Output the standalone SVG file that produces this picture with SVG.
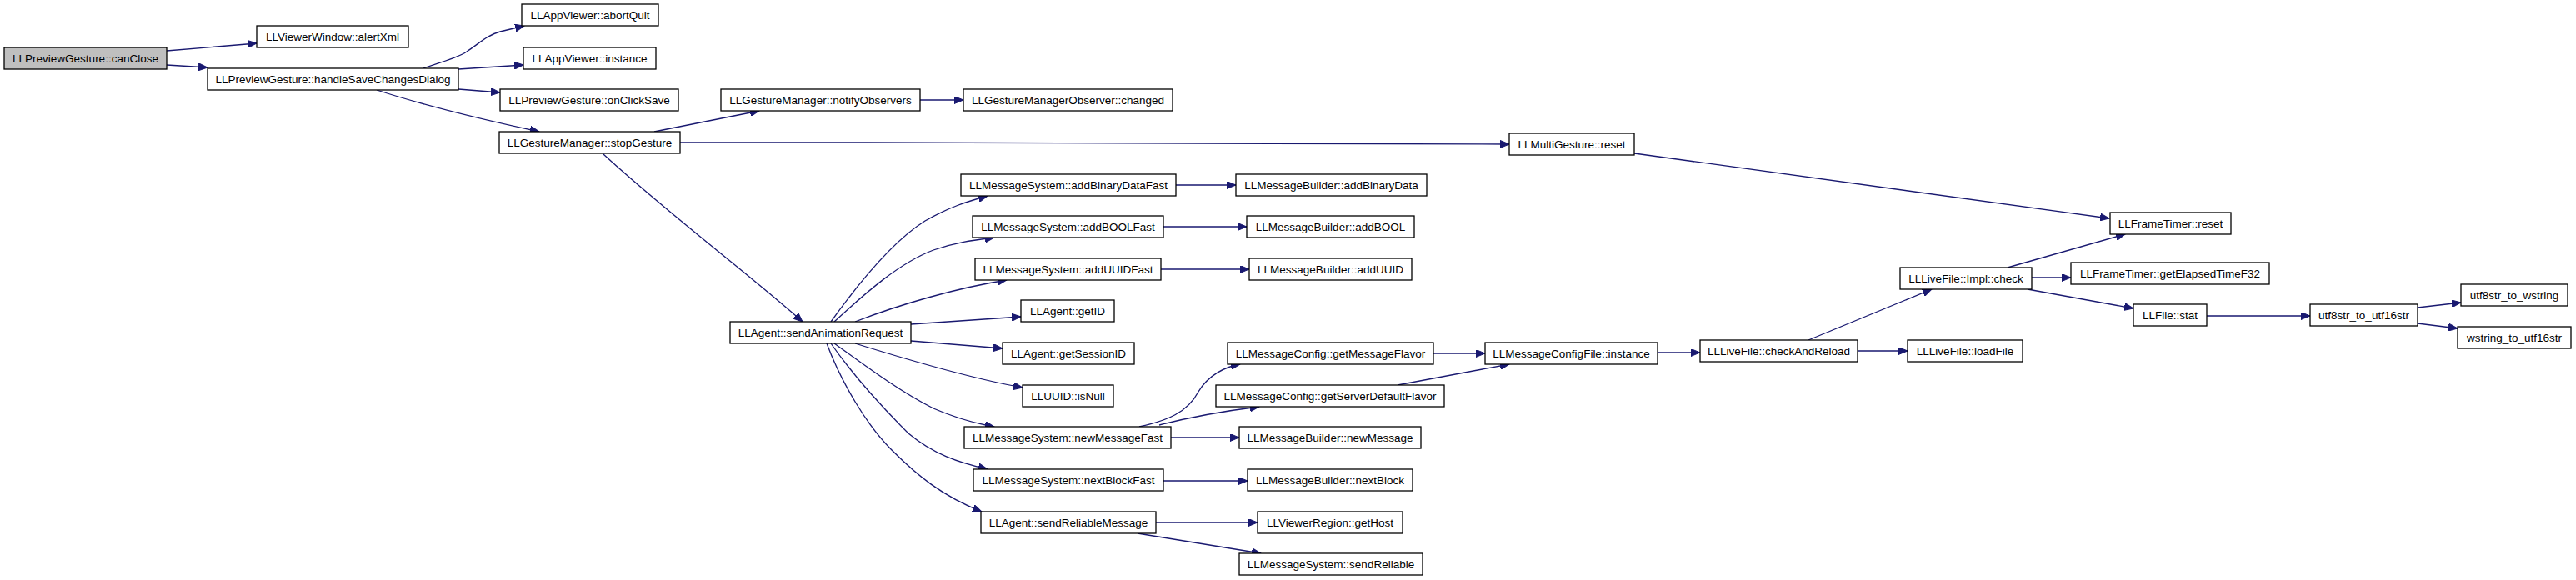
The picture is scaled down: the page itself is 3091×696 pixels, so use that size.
<svg xmlns="http://www.w3.org/2000/svg" width="3091" height="696" viewBox="0 0 3091 696">
<style>
.n rect{fill:#ffffff;stroke:#000000;stroke-width:1.3}
.n.root rect{fill:#bfbfbf}
.n text{font-family:"Liberation Sans",Arial,sans-serif;font-size:13.5px;fill:#000000;text-anchor:middle}
#edges path{fill:none;stroke:#191970;stroke-width:1.3;marker-end:url(#arr)}
</style>
<defs>
<marker id="arr" markerUnits="userSpaceOnUse" markerWidth="12" markerHeight="9" refX="11" refY="4.5" orient="auto">
<path d="M0,0 L11,4.5 L0,9 z" fill="#191970" stroke="#191970" stroke-width="1"/>
</marker>
</defs>
<rect width="3091" height="696" fill="#ffffff"/>
<g id="edges">
<path d="M200,61 L308,52"/>
<path d="M200,78 L249,81"/>
<path d="M508,82 C530,74 548,70 560,62 C575,52 585,42 600,38 L629,31"/>
<path d="M550,83 L628,78"/>
<path d="M550,107 L600,111"/>
<path d="M452,108 C520,130 600,148 647,158"/>
<path d="M785,158 L911,133"/>
<path d="M1104,120 L1156,120"/>
<path d="M816,171 L1040,171 L1811,173"/>
<path d="M724,185 C800,255 900,330 963,386"/>
<path d="M1961,184 L2531,262"/>
<path d="M997,386 C1030,340 1070,290 1110,265 C1140,248 1160,242 1185,235"/>
<path d="M1001,386 C1040,350 1080,315 1120,300 C1150,290 1170,288 1193,285"/>
<path d="M1026,386 C1080,365 1150,345 1208,336"/>
<path d="M1093,389 L1225,380"/>
<path d="M1093,409 L1203,418"/>
<path d="M1026,412 C1100,435 1170,455 1227,465"/>
<path d="M1001,412 C1040,440 1080,470 1120,490 C1150,503 1170,508 1193,512"/>
<path d="M997,412 C1020,445 1050,480 1090,520 C1120,545 1150,555 1185,563"/>
<path d="M992,412 C1010,460 1040,510 1070,540 C1100,570 1130,595 1178,614"/>
<path d="M1411,222 L1483,222"/>
<path d="M1396,272 L1496,272"/>
<path d="M1393,323 L1499,323"/>
<path d="M1367,512 C1400,505 1425,495 1438,470 C1450,450 1470,440 1488,437"/>
<path d="M1391,510 C1430,500 1470,493 1511,488"/>
<path d="M1405,525 L1487,525"/>
<path d="M1396,577 L1497,577"/>
<path d="M1387,627 L1509,627"/>
<path d="M1365,640 L1513,664"/>
<path d="M1720,424 L1782,424"/>
<path d="M1677,462 L1811,437"/>
<path d="M1989,423 L2040,423"/>
<path d="M2170,408 L2318,347"/>
<path d="M2229,421 L2289,421"/>
<path d="M2409,321 L2550,281"/>
<path d="M2438,333 L2485,333"/>
<path d="M2433,347 L2560,370"/>
<path d="M2648,379 L2772,379"/>
<path d="M2901,369 L2953,363"/>
<path d="M2901,388 L2949,394"/>
</g>
<g id="n_canClose" class="n root"><rect x="5" y="57" width="195" height="26"/><text x="102.5" y="74.5">LLPreviewGesture::canClose</text></g>
<g id="n_alertXml" class="n"><rect x="308" y="31" width="182" height="26"/><text x="399" y="48.5">LLViewerWindow::alertXml</text></g>
<g id="n_handleSave" class="n"><rect x="249" y="82" width="301" height="26"/><text x="399.5" y="99.5">LLPreviewGesture::handleSaveChangesDialog</text></g>
<g id="n_abortQuit" class="n"><rect x="626" y="5" width="164" height="26"/><text x="708" y="22.5">LLAppViewer::abortQuit</text></g>
<g id="n_appInstance" class="n"><rect x="628" y="57" width="159" height="26"/><text x="707.5" y="74.5">LLAppViewer::instance</text></g>
<g id="n_onClickSave" class="n"><rect x="600" y="107" width="214" height="26"/><text x="707" y="124.5">LLPreviewGesture::onClickSave</text></g>
<g id="n_stopGesture" class="n"><rect x="599" y="158" width="217" height="26"/><text x="707.5" y="175.5">LLGestureManager::stopGesture</text></g>
<g id="n_notifyObservers" class="n"><rect x="865" y="107" width="239" height="26"/><text x="984.5" y="124.5">LLGestureManager::notifyObservers</text></g>
<g id="n_changed" class="n"><rect x="1156" y="107" width="251" height="26"/><text x="1281.5" y="124.5">LLGestureManagerObserver::changed</text></g>
<g id="n_multiReset" class="n"><rect x="1811" y="160" width="150" height="26"/><text x="1886" y="177.5">LLMultiGesture::reset</text></g>
<g id="n_sendAnim" class="n"><rect x="876" y="386" width="217" height="26"/><text x="984.5" y="403.5">LLAgent::sendAnimationRequest</text></g>
<g id="n_addBinaryDataFast" class="n"><rect x="1153" y="209" width="258" height="26"/><text x="1282" y="226.5">LLMessageSystem::addBinaryDataFast</text></g>
<g id="n_addBOOLFast" class="n"><rect x="1167" y="259" width="229" height="26"/><text x="1281.5" y="276.5">LLMessageSystem::addBOOLFast</text></g>
<g id="n_addUUIDFast" class="n"><rect x="1170" y="310" width="223" height="26"/><text x="1281.5" y="327.5">LLMessageSystem::addUUIDFast</text></g>
<g id="n_getID" class="n"><rect x="1225" y="360" width="112" height="26"/><text x="1281" y="377.5">LLAgent::getID</text></g>
<g id="n_getSessionID" class="n"><rect x="1203" y="411" width="158" height="26"/><text x="1282" y="428.5">LLAgent::getSessionID</text></g>
<g id="n_isNull" class="n"><rect x="1227" y="462" width="109" height="26"/><text x="1281.5" y="479.5">LLUUID::isNull</text></g>
<g id="n_newMessageFast" class="n"><rect x="1157" y="512" width="248" height="26"/><text x="1281" y="529.5">LLMessageSystem::newMessageFast</text></g>
<g id="n_nextBlockFast" class="n"><rect x="1168" y="563" width="228" height="26"/><text x="1282" y="580.5">LLMessageSystem::nextBlockFast</text></g>
<g id="n_sendReliableMessage" class="n"><rect x="1177" y="614" width="210" height="26"/><text x="1282" y="631.5">LLAgent::sendReliableMessage</text></g>
<g id="n_addBinaryData" class="n"><rect x="1483" y="209" width="229" height="26"/><text x="1597.5" y="226.5">LLMessageBuilder::addBinaryData</text></g>
<g id="n_addBOOL" class="n"><rect x="1496" y="259" width="201" height="26"/><text x="1596.5" y="276.5">LLMessageBuilder::addBOOL</text></g>
<g id="n_addUUID" class="n"><rect x="1499" y="310" width="195" height="26"/><text x="1596.5" y="327.5">LLMessageBuilder::addUUID</text></g>
<g id="n_getMessageFlavor" class="n"><rect x="1473" y="411" width="247" height="26"/><text x="1596.5" y="428.5">LLMessageConfig::getMessageFlavor</text></g>
<g id="n_getServerDefaultFlavor" class="n"><rect x="1459" y="462" width="274" height="26"/><text x="1596" y="479.5">LLMessageConfig::getServerDefaultFlavor</text></g>
<g id="n_newMessage" class="n"><rect x="1487" y="512" width="218" height="26"/><text x="1596" y="529.5">LLMessageBuilder::newMessage</text></g>
<g id="n_nextBlock" class="n"><rect x="1497" y="563" width="198" height="26"/><text x="1596" y="580.5">LLMessageBuilder::nextBlock</text></g>
<g id="n_getHost" class="n"><rect x="1509" y="614" width="174" height="26"/><text x="1596" y="631.5">LLViewerRegion::getHost</text></g>
<g id="n_sendReliable" class="n"><rect x="1487" y="664" width="220" height="26"/><text x="1597" y="681.5">LLMessageSystem::sendReliable</text></g>
<g id="n_configFileInstance" class="n"><rect x="1782" y="411" width="207" height="26"/><text x="1885.5" y="428.5">LLMessageConfigFile::instance</text></g>
<g id="n_checkAndReload" class="n"><rect x="2040" y="408" width="189" height="26"/><text x="2134.5" y="425.5">LLLiveFile::checkAndReload</text></g>
<g id="n_loadFile" class="n"><rect x="2289" y="408" width="138" height="26"/><text x="2358" y="425.5">LLLiveFile::loadFile</text></g>
<g id="n_implCheck" class="n"><rect x="2280" y="321" width="158" height="26"/><text x="2359" y="338.5">LLLiveFile::Impl::check</text></g>
<g id="n_frameTimerReset" class="n"><rect x="2532" y="255" width="145" height="26"/><text x="2604.5" y="272.5">LLFrameTimer::reset</text></g>
<g id="n_getElapsed" class="n"><rect x="2485" y="315" width="238" height="26"/><text x="2604" y="332.5">LLFrameTimer::getElapsedTimeF32</text></g>
<g id="n_fileStat" class="n"><rect x="2560" y="365" width="88" height="26"/><text x="2604" y="382.5">LLFile::stat</text></g>
<g id="n_utf8ToUtf16" class="n"><rect x="2772" y="365" width="129" height="26"/><text x="2836.5" y="382.5">utf8str_to_utf16str</text></g>
<g id="n_utf8ToWstring" class="n"><rect x="2953" y="341" width="128" height="26"/><text x="3017" y="358.5">utf8str_to_wstring</text></g>
<g id="n_wstringToUtf16" class="n"><rect x="2949" y="392" width="136" height="26"/><text x="3017" y="409.5">wstring_to_utf16str</text></g>
</svg>
